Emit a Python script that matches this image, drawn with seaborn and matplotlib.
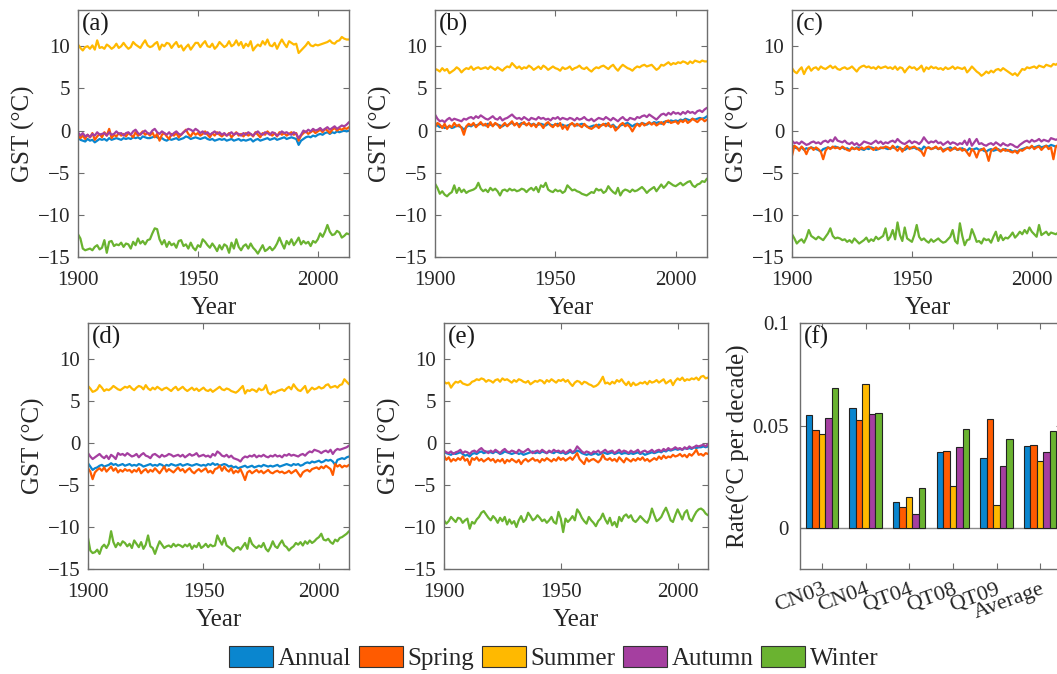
import numpy as np
import pandas as pd
import matplotlib
matplotlib.use("Agg")
import matplotlib.pyplot as plt
from matplotlib.patches import Patch
import seaborn as sns

# ---------------- data ----------------
years = list(range(1900, 2014))
seasons = ["Annual", "Spring", "Summer", "Autumn", "Winter"]
colors = ["#0A86CF", "#FF5B00", "#FFB900", "#A53FA0", "#6AB330"]

# Panel (a)
a_summer = [10.2, 9.8, 9.5, 9.9, 10.0, 9.7, 10.1, 9.6, 10.7, 9.8,
            9.9, 9.7, 10.2, 10.0, 9.7, 9.9, 10.3, 9.8, 10.0, 10.4,
            10.0, 9.7, 9.9, 10.5, 10.2, 10.0, 9.8, 10.3, 10.7, 10.1,
            9.9, 10.0, 10.3, 10.5, 9.6, 10.2, 10.0, 10.4, 10.3, 9.8,
            10.2, 10.5, 9.9, 10.1, 9.5, 9.9, 10.2, 9.6, 10.0, 10.4,
            10.4, 9.9, 10.3, 10.6, 10.0, 9.9, 10.3, 9.7, 10.0, 10.5,
            10.2, 9.9, 10.1, 10.6, 10.0, 10.2, 10.7, 10.1, 10.5, 9.8,
            10.3, 10.0, 10.6, 9.5, 9.9, 10.2, 10.0, 10.6, 10.2, 10.8,
            10.1, 10.0, 10.4, 9.7, 10.3, 10.8, 10.3, 9.9, 10.6, 10.4,
            10.2, 10.3, 9.2, 9.5, 9.8, 10.1, 10.5, 10.1, 10.0, 10.2,
            10.1, 10.2, 10.3, 10.4, 10.5, 10.7, 10.4, 10.3, 10.6, 10.7,
            11.1, 10.9, 10.8, 10.8]
a_autumn = [-0.2, -0.6, -0.3, -0.7, -0.5, -0.8, -0.4, -0.6, -0.2, -0.5,
            -0.4, -0.3, -0.6, -0.2, -0.5, -0.4, -0.1, -0.4, -0.3, -0.6,
            -0.3, -0.2, -0.5, -0.1, 0.1, -0.3, -0.5, -0.2, 0.0, -0.3,
            -0.4, 0.0, 0.2, -0.2, -0.4, -0.1, -0.3, -0.5, -0.2, -0.6,
            -0.3, -0.1, -0.4, -0.5, -0.2, 0.0, 0.2, 0.1, -0.1, 0.2,
            0.0, -0.3, -0.1, -0.4, -0.2, -0.5, -0.3, -0.1, -0.4, -0.2,
            -0.5, -0.3, -0.6, -0.4, -0.2, -0.5, -0.3, -0.4, -0.6, -0.3,
            -0.5, -0.2, -0.4, -0.6, -0.3, -0.1, -0.4, -0.5, -0.2, -0.3,
            -0.5, -0.2, -0.3, -0.6, -0.4, -0.1, -0.3, -0.2, -0.4, -0.5,
            -0.2, -0.4, -0.9, -0.5, 0.0, -0.2, 0.1, -0.1, 0.2, 0.0,
            0.1, 0.3, 0.0, 0.2, 0.4, 0.1, 0.3, 0.5, 0.2, 0.4,
            0.6, 0.5, 0.7, 1.0]
a_spring = [-0.4, -0.9, -0.6, -1.0, -0.5, -0.8, -0.3, -1.1, -0.7, -0.4,
            -0.8, -0.2, -0.6, 0.2, -0.9, -0.5, -0.7, -0.3, -0.6, -0.4,
            -0.7, -0.3, -0.5, -0.8, -0.2, -0.6, -0.4, -0.1, -0.5, -0.3,
            -0.6, -0.2, -0.8, -0.4, -1.2, -0.5, -0.3, -0.7, -1.0, -0.4,
            -0.6, -0.3, -0.8, -0.5, -0.2, 0.1, -0.4, -0.7, -0.2, -0.5,
            -0.3, -0.6, -0.4, -0.1, -0.5, -0.8, -0.3, -0.6, -0.2, -0.5,
            -0.7, -0.4, -0.6, -0.3, -0.8, -0.5, -0.2, -0.6, -0.4, -0.7,
            -0.3, -0.6, -0.4, -0.7, -0.2, -0.5, -0.8, -0.3, -0.5, -0.1,
            -0.4, -0.6, -0.3, -0.7, -0.2, -0.5, -0.3, -0.6, -0.4, -0.2,
            -0.5, -0.3, -1.2, -0.6, -0.3, -0.1, -0.4, -0.2, 0.0, -0.3,
            -0.1, 0.1, -0.2, 0.2, 0.0, -0.3, 0.1, 0.3, 0.0, 0.2,
            0.1, 0.3, 0.2, 0.4]
a_annual = [-0.8, -1.1, -1.2, -1.3, -1.0, -1.2, -1.1, -1.4, -1.2, -1.0,
            -1.1, -1.0, -1.2, -0.9, -1.1, -1.0, -0.9, -1.0, -1.1, -0.9,
            -1.0, -0.9, -1.0, -0.8, -0.9, -0.8, -1.0, -0.7, -0.8, -0.9,
            -0.9, -0.8, -0.7, -0.8, -1.0, -0.9, -1.1, -1.2, -1.0, -1.1,
            -1.0, -0.9, -1.1, -1.0, -0.9, -0.7, -0.8, -1.0, -0.9, -0.8,
            -0.9, -1.0, -0.9, -0.8, -1.0, -1.1, -1.0, -1.2, -1.1, -1.0,
            -1.1, -1.0, -1.2, -1.1, -1.0, -1.2, -1.1, -1.0, -1.2, -1.1,
            -1.2, -1.1, -1.0, -1.3, -1.1, -1.0, -1.2, -1.1, -1.0, -0.9,
            -1.1, -1.0, -0.9, -1.1, -1.0, -0.9, -0.8, -1.0, -0.9, -0.8,
            -0.9, -1.0, -1.7, -1.2, -1.0, -0.8, -0.7, -0.8, -0.6, -0.7,
            -0.5, -0.4, -0.5, -0.3, -0.2, -0.4, -0.2, -0.3, -0.1, -0.2,
            -0.1, 0.0, -0.1, 0.0]
a_winter = [-12.3, -12.8, -14.0, -14.2, -14.1, -14.0, -14.2, -13.8, -13.6, -14.1,
            -13.9, -13.0, -14.5, -13.2, -13.1, -13.7, -13.5, -13.6, -13.3, -13.8,
            -13.4, -13.5, -14.0, -13.2, -13.6, -12.8, -13.4, -13.1, -13.5, -13.0,
            -12.9, -12.2, -11.6, -11.7, -12.9, -13.5, -13.0, -13.8, -13.2, -13.6,
            -13.4, -13.9, -13.1, -13.0, -13.7, -13.5, -14.0, -13.3, -13.9, -14.2,
            -13.6, -13.8, -12.9, -13.2, -13.6, -13.9, -13.4, -13.8, -14.3, -13.6,
            -14.1, -13.5, -13.7, -14.5, -13.3, -14.0, -12.9, -13.8, -14.2, -13.7,
            -13.5, -14.0, -13.4, -13.9, -14.2, -14.6, -14.1, -13.6, -14.3, -14.1,
            -13.8, -14.2, -13.9, -13.4, -12.7, -13.4, -14.0, -13.1, -13.5, -12.9,
            -13.6, -13.2, -12.7, -13.5, -13.1, -13.4, -13.2, -13.7, -13.1, -13.3,
            -12.9, -12.2, -12.6, -12.0, -11.2, -12.0, -12.4, -12.3, -11.9, -12.1,
            -12.7, -12.5, -12.2, -12.3]

# Panel (b)
b_summer = [7.3, 7.2, 7.0, 7.4, 7.1, 7.3, 6.8, 7.0, 7.2, 7.5,
            7.3, 6.9, 7.2, 7.4, 7.3, 7.6, 7.2, 7.4, 7.5, 7.3,
            7.4, 7.5, 7.3, 7.6, 7.4, 7.2, 7.5, 7.3, 7.1, 7.4,
            7.6, 7.5, 8.0, 7.7, 7.4, 7.6, 7.3, 7.5, 7.4, 7.7,
            7.5, 7.2, 7.4, 7.6, 7.3, 7.7, 7.5, 7.2, 7.4, 7.6,
            7.4, 7.3, 7.1, 7.5, 7.3, 7.4, 7.6, 7.2, 7.4, 7.5,
            7.7, 7.4, 7.3, 7.5, 7.2, 7.0, 7.3, 7.5, 7.4, 7.6,
            7.7, 7.5, 7.3, 7.6, 7.8, 7.4, 7.1, 7.5, 7.8, 7.6,
            7.4, 7.3, 7.1, 7.4, 7.6, 7.5, 7.7, 7.8, 7.6, 7.7,
            7.8, 7.5, 7.2, 7.4, 7.8, 7.7, 7.9, 8.1, 7.8, 8.0,
            7.9, 8.1, 8.0, 8.2, 8.1, 7.9, 8.2, 8.0, 8.3, 8.2,
            8.1, 8.3, 8.2, 8.2]
b_autumn = [1.9, 1.4, 1.1, 1.2, 1.0, 1.3, 1.5, 1.2, 1.4, 1.3,
            1.2, 1.1, 1.4, 1.3, 1.5, 1.6, 1.4, 1.7, 1.5, 1.8,
            1.6, 1.4, 1.3, 1.5, 1.7, 1.4, 1.3, 1.6, 1.2, 1.4,
            1.5, 1.7, 1.9, 1.6, 1.4, 1.5, 1.3, 1.6, 1.4, 1.2,
            1.5, 1.4, 1.3, 1.6, 1.4, 1.5, 1.3, 1.4, 1.2, 1.5,
            1.4, 1.6, 1.3, 1.5, 1.4, 1.3, 1.5, 1.4, 1.2, 1.5,
            1.3, 1.4, 1.6, 1.3, 1.2, 1.4, 1.1, 1.3, 1.5, 1.4,
            1.3, 1.6, 1.4, 1.2, 1.5, 1.3, 1.1, 1.4, 1.6, 1.3,
            1.2, 1.5, 1.4, 1.3, 1.6, 1.5, 1.7, 1.8, 1.6, 1.9,
            1.7, 1.5, 1.3, 1.6, 1.9, 2.0, 1.8, 2.1, 1.9, 2.2,
            2.0, 2.1, 1.9, 2.2, 2.0, 2.3, 2.1, 2.2, 2.0, 2.3,
            2.4, 2.2, 2.5, 2.7]
b_annual = [0.8, 0.6, 0.4, 0.5, 0.3, 0.4, 0.5, 0.3, 0.4, 0.6,
            0.5, 0.4, 0.1, 0.4, 0.6, 0.5, 0.7, 0.6, 0.7, 0.8,
            0.7, 0.6, 0.8, 0.7, 0.6, 0.8, 0.7, 0.6, 0.5, 0.7,
            0.6, 0.8, 0.9, 0.7, 0.8, 0.7, 0.9, 0.8, 0.7, 0.8,
            0.7, 0.8, 0.6, 0.7, 0.8, 0.7, 0.6, 0.8, 0.7, 0.6,
            0.7, 0.8, 0.6, 0.7, 0.5, 0.6, 0.7, 0.8, 0.7, 0.6,
            0.7, 0.8, 0.7, 0.5, 0.4, 0.5, 0.6, 0.5, 0.7, 0.6,
            0.7, 0.8, 0.6, 0.5, 0.7, 0.4, 0.3, 0.6, 0.7, 0.8,
            0.9, 0.7, 0.5, 0.7, 0.8, 0.7, 0.9, 0.8, 0.7, 0.9,
            0.8, 1.0, 0.9, 1.0, 0.8, 1.0, 1.1, 1.0, 1.2, 1.1,
            1.2, 1.1, 1.3, 1.2, 1.4, 1.3, 1.2, 1.4, 1.3, 1.4,
            1.5, 1.4, 1.5, 1.7]
b_spring = [0.4, 0.9, 0.7, 0.3, 0.8, 0.2, 0.6, 0.4, 0.9, 0.5,
            0.7, 0.3, -0.5, 0.5, 0.8, 0.6, 0.9, 0.4, 0.7, 1.0,
            0.6, 0.8, 0.4, 1.0, 0.5, 0.9, 0.7, 0.3, 0.6, 0.9,
            0.5, 0.8, 1.1, 0.6, 0.9, 0.4, 0.8, 1.0, 0.6, 0.9,
            0.5, 0.8, 0.4, 0.9, 0.7, 0.3, 0.8, 1.0, 0.6, 0.4,
            0.8, 0.5, 0.9, 0.2, 0.6, 0.1, 0.7, 0.9, 0.5, 0.8,
            0.6, 0.4, 0.8, 0.5, 0.3, 0.2, 0.4, 0.7, 0.3, 0.6,
            0.8, 0.5, 0.9, 0.4, 0.6, 0.0, 0.3, 0.7, 0.9, 0.5,
            0.7, 0.4, -0.1, 0.4, 0.8, 0.5, 0.9, 0.6, 0.8, 1.0,
            0.7, 0.9, 0.6, 0.8, 1.0, 0.7, 1.1, 1.2, 0.9, 1.0,
            1.1, 0.8, 1.2, 1.0, 1.3, 0.9, 1.1, 1.4, 1.2, 1.0,
            1.3, 1.4, 1.1, 1.3]
b_winter = [-6.3, -6.8, -7.5, -7.2, -7.6, -7.8, -7.5, -7.3, -6.5, -7.4,
            -6.8, -7.3, -7.0, -7.4, -7.2, -7.1, -7.0, -6.8, -6.2, -6.9,
            -7.2, -7.0, -7.3, -6.8, -7.1, -6.9, -7.2, -7.7, -7.1, -7.0,
            -7.2, -6.9, -7.1, -7.0, -7.2, -7.1, -6.9, -7.0, -7.3, -7.0,
            -6.8, -7.1, -6.7, -7.3, -6.5, -6.7, -6.2, -7.0, -7.2, -7.3,
            -7.0, -7.2, -7.1, -7.4, -7.2, -6.5, -6.8, -7.1, -7.0, -7.2,
            -7.3, -7.5, -7.6, -7.7, -7.5, -7.3, -7.4, -6.9, -7.1, -7.0,
            -7.4, -7.2, -6.6, -7.0, -7.3, -7.5, -6.8, -7.7, -7.2, -7.0,
            -7.1, -7.3, -7.0, -7.2, -7.1, -6.9, -6.7, -7.0, -7.4, -7.1,
            -6.9, -6.7, -7.2, -6.8, -6.4, -6.8, -6.5, -6.1, -6.3, -6.5,
            -6.6, -6.4, -6.2, -6.5, -6.3, -6.1, -6.0, -6.5, -6.7, -6.4,
            -6.3, -6.0, -6.1, -5.7]

# Panel (c)
c_summer = [7.4, 7.0, 6.8, 7.2, 7.5, 6.7, 7.3, 7.6, 7.1, 7.4,
            7.5, 7.2, 7.6, 7.4, 7.3, 7.5, 7.7, 7.4, 7.6, 7.3,
            7.2, 7.4, 7.5, 7.3, 7.4, 7.6, 7.3, 7.0, 7.4, 7.6,
            7.7, 7.5, 7.6, 7.4, 7.5, 7.3, 7.6, 7.4, 7.5, 7.6,
            7.4, 7.5, 7.3, 7.6, 7.2, 7.5, 7.4, 6.9, 7.3, 7.6,
            7.4, 7.5, 7.2, 7.4, 7.7, 7.0, 7.5, 7.3, 7.6, 7.4,
            7.5, 7.3, 7.4, 7.2, 7.5, 7.3, 7.4, 7.6, 7.3, 7.5,
            7.4, 7.3, 7.5, 6.9, 7.2, 7.6, 7.3, 7.0, 6.8, 6.5,
            6.7, 7.0, 6.8, 7.1, 6.9, 7.2, 7.3, 7.1, 7.4, 7.2,
            7.0, 6.8, 6.6, 6.8, 6.5, 6.9, 7.3, 7.2, 7.5, 7.4,
            7.5, 7.6, 7.4, 7.7, 7.6, 7.5, 7.8, 7.7, 7.6, 7.9,
            7.8, 8.0, 7.9, 8.0]
c_autumn = [-1.2, -1.5, -1.4, -1.6, -1.3, -1.5, -1.7, -1.6, -1.4, -1.3,
            -1.5, -1.4, -1.6, -1.3, -1.2, -1.4, -1.1, -1.3, -0.8, -1.2,
            -1.3, -1.4, -1.2, -1.5, -1.6, -1.4, -1.7, -1.5, -1.8, -1.6,
            -1.3, -1.4, -1.5, -1.6, -1.4, -1.2, -1.5, -1.3, -1.6, -1.4,
            -1.5, -1.3, -1.2, -1.4, -1.0, -1.3, -1.5, -1.6, -1.4, -1.2,
            -1.5, -1.3, -1.4, -1.6, -1.3, -0.8, -1.2, -1.5, -1.3, -1.4,
            -1.2, -1.5, -1.4, -1.7, -1.5, -1.3, -1.6, -1.4, -1.5, -1.7,
            -1.5, -1.6, -1.2, -1.7, -1.0, -1.8, -1.4, -1.0, -1.6, -1.5,
            -1.7, -1.8, -1.6, -1.5, -1.7, -1.4, -1.6, -1.8, -1.5, -1.7,
            -1.8, -1.6, -1.7, -1.9, -2.0, -1.7, -1.5, -1.3, -1.2, -1.4,
            -1.1, -1.3, -1.2, -1.0, -1.3, -1.1, -1.2, -1.3, -0.9, -1.0,
            -1.1, -1.0, -0.9, -1.2]
c_annual = [-1.7, -2.0, -2.1, -2.2, -2.0, -2.3, -2.1, -2.2, -2.0, -2.1,
            -2.2, -2.3, -2.5, -2.2, -2.1, -2.0, -2.1, -2.0, -1.9, -2.0,
            -2.1, -2.0, -2.2, -2.1, -2.3, -2.1, -2.2, -2.0, -2.1, -2.2,
            -2.3, -2.1, -2.2, -2.0, -2.1, -2.3, -2.2, -2.1, -2.0, -2.1,
            -2.2, -2.1, -2.0, -2.1, -1.9, -2.1, -2.2, -2.3, -2.1, -2.0,
            -2.1, -2.0, -2.2, -2.1, -2.3, -1.9, -2.1, -2.0, -2.2, -2.1,
            -2.0, -2.2, -2.1, -2.3, -2.2, -2.1, -2.0, -2.2, -2.1, -2.3,
            -2.2, -2.1, -2.3, -2.4, -2.1, -2.3, -2.2, -2.1, -2.3, -2.2,
            -2.4, -2.5, -2.3, -2.2, -2.4, -2.3, -2.2, -2.4, -2.3, -2.2,
            -2.4, -2.3, -2.5, -2.4, -2.5, -2.3, -2.2, -2.1, -2.0, -2.1,
            -1.9, -2.0, -1.9, -1.8, -2.0, -1.9, -1.8, -1.9, -1.7, -1.8,
            -1.9, -1.8, -1.7, -1.8]
c_spring = [-3.0, -1.8, -2.0, -2.4, -1.9, -2.2, -2.8, -2.1, -2.0, -2.3,
            -2.0, -2.2, -2.5, -3.4, -2.4, -2.0, -2.2, -1.9, -2.1, -2.0,
            -2.2, -1.9, -2.1, -2.3, -2.4, -2.0, -2.2, -2.1, -2.3, -2.0,
            -2.2, -2.0, -1.9, -2.1, -2.3, -2.0, -2.2, -2.0, -2.1, -1.9,
            -2.0, -2.2, -1.8, -2.1, -2.4, -2.0, -2.5, -2.1, -1.8, -2.2,
            -2.0, -1.9, -2.1, -2.3, -2.5, -3.0, -2.1, -2.0, -2.2, -2.1,
            -1.9, -2.2, -2.0, -2.5, -2.3, -2.1, -2.4, -2.2, -2.0, -2.3,
            -2.1, -2.4, -2.2, -2.6, -3.0, -2.2, -2.5, -3.2, -2.4, -2.3,
            -2.1, -2.6, -3.6, -2.4, -2.2, -2.0, -2.3, -2.5, -2.2, -2.4,
            -2.3, -2.5, -2.6, -2.4, -2.7, -2.3, -2.4, -2.2, -2.0, -2.1,
            -1.8, -2.2, -2.0, -1.9, -2.3, -2.0, -1.8, -2.2, -2.0, -3.4,
            -1.9, -1.7, -2.1, -1.8]
c_winter = [-12.3, -12.8, -13.4, -13.1, -12.9, -13.3, -12.7, -11.8, -12.5, -12.7,
            -12.9, -12.6, -12.8, -13.0, -12.6, -12.2, -11.6, -12.5, -12.8, -12.7,
            -12.8, -13.0, -12.9, -13.2, -13.0, -13.3, -12.8, -13.1, -13.4, -13.2,
            -13.0, -12.7, -13.2, -12.9, -13.1, -12.6, -12.9, -12.7, -12.5, -11.6,
            -13.0, -12.6, -11.8, -12.9, -10.9, -12.4, -13.1, -11.5, -12.8, -13.0,
            -13.2, -12.4, -11.2, -12.6, -13.0, -12.8, -13.1, -13.3, -12.9, -13.2,
            -13.0, -12.8, -13.1, -13.3, -13.2, -12.9, -12.6, -11.8, -13.1, -13.4,
            -11.0, -12.5, -13.6, -13.0, -12.9, -11.7, -12.4, -13.2, -13.1, -13.4,
            -12.8, -13.0, -12.9, -13.3, -12.6, -12.0, -13.1, -12.4, -13.0, -12.7,
            -12.8, -12.5, -12.1, -12.7, -12.4, -12.0, -12.3, -11.8, -12.2, -11.5,
            -12.0, -12.3, -12.6, -11.2, -12.4, -12.2, -12.0, -12.4, -12.1, -12.2,
            -12.3, -12.1, -12.0, -12.2]

# Panel (d)
d_summer = [6.8, 6.5, 6.1, 6.2, 6.4, 6.9, 6.6, 6.2, 6.4, 6.3,
            6.5, 6.8, 6.6, 6.4, 6.3, 6.5, 6.7, 6.6, 6.8, 6.5,
            6.3, 6.6, 6.8, 6.7, 6.4, 6.9, 6.5, 6.3, 6.6, 6.4,
            6.7, 6.5, 6.3, 6.5, 6.6, 6.4, 6.2, 6.5, 6.7, 6.3,
            6.5, 6.7, 6.4, 6.2, 6.4, 6.6, 6.3, 6.5, 6.2, 6.4,
            6.6, 6.3, 6.2, 6.4, 6.1, 6.3, 6.5, 6.7, 6.4, 6.3,
            6.5, 6.4, 6.2, 6.1, 6.0, 6.2, 6.5, 6.8, 5.9, 6.3,
            6.2, 6.4, 6.3, 6.1, 6.5, 6.3, 6.4, 6.9, 6.0, 5.8,
            6.1, 6.0, 6.2, 6.3, 6.4, 6.2, 6.5, 6.7, 6.4, 7.0,
            6.6, 6.3, 6.2, 6.5, 6.8, 6.0, 6.3, 6.6, 6.4, 6.5,
            6.7, 6.5, 6.6, 6.9, 7.0, 6.6, 6.7, 6.8, 6.6, 6.9,
            7.0, 7.6, 7.3, 7.0]
d_autumn = [-1.2, -1.6, -1.9, -1.7, -1.5, -1.3, -1.6, -1.8, -1.5, -1.9,
            -1.4, -1.6, -1.9, -1.2, -1.4, -1.3, -1.5, -1.2, -1.4, -1.6,
            -1.5, -1.3, -1.7, -1.4, -1.2, -1.5, -1.6, -1.8, -1.4, -1.3,
            -1.5, -1.7, -1.4, -1.6, -1.5, -1.3, -1.4, -1.6, -1.5, -1.4,
            -1.6, -1.4, -1.7, -1.5, -1.3, -1.5, -1.4, -1.2, -1.6, -1.5,
            -1.4, -1.6, -1.5, -1.7, -1.3, -1.5, -1.0, -1.2, -1.5, -1.6,
            -1.4, -1.7, -1.5, -1.8, -1.9, -2.0, -2.2, -1.8, -1.6, -1.7,
            -1.5, -1.6, -1.4, -1.7, -1.5, -1.6, -1.4, -1.6, -1.7, -1.5,
            -1.6, -1.4, -1.6, -1.5, -1.7, -1.4, -1.5, -1.3, -1.5, -1.4,
            -1.5, -1.6, -1.4, -1.3, -1.5, -1.2, -1.0, -1.1, -0.8, -0.9,
            -1.0, -1.2, -1.0, -0.9, -1.1, -0.8, -1.3, -0.9, -0.7, -0.8,
            -0.7, -0.6, -0.5, -0.3]
d_annual = [-2.4, -2.8, -3.2, -3.0, -2.9, -2.7, -2.6, -2.8, -2.7, -2.6,
            -2.4, -2.6, -2.5, -2.7, -2.6, -2.5, -2.7, -2.6, -2.5, -2.7,
            -2.6, -2.7, -2.5, -2.6, -2.8, -2.7, -2.6, -2.5, -2.7, -2.6,
            -2.7, -2.5, -2.6, -2.8, -2.6, -2.7, -2.5, -2.6, -2.7, -2.6,
            -2.5, -2.7, -2.6, -2.5, -2.6, -2.7, -2.6, -2.5, -2.6, -2.7,
            -2.6, -2.7, -2.5, -2.6, -2.4, -2.6, -2.5, -2.7, -2.6, -2.5,
            -2.6, -2.8, -2.7, -2.9, -2.8, -3.0, -2.9, -2.8, -2.7, -2.9,
            -2.8, -2.7, -2.9, -2.8, -2.7, -2.8, -2.6, -2.7, -2.8, -2.7,
            -2.8, -2.7, -2.6, -2.8, -2.7, -2.6, -2.5, -2.6, -2.7, -2.5,
            -2.6, -2.5, -2.7, -2.6, -2.4, -2.3, -2.4, -2.2, -2.3, -2.2,
            -2.1, -2.3, -2.2, -2.0, -2.1, -2.0, -2.2, -2.6, -2.0, -1.9,
            -1.8, -1.9, -1.7, -1.6]
d_spring = [-3.0, -3.4, -4.3, -3.5, -3.2, -3.0, -3.3, -2.9, -3.4, -3.1,
            -2.8, -3.3, -3.0, -3.5, -3.2, -3.4, -3.1, -3.3, -3.2, -3.5,
            -3.2, -3.4, -3.0, -3.6, -3.3, -3.1, -3.5, -3.2, -3.4, -3.0,
            -3.3, -3.6, -3.2, -2.8, -3.4, -3.1, -3.3, -3.5, -3.2, -2.9,
            -3.3, -3.1, -3.5, -3.2, -3.0, -3.4, -3.6, -3.3, -3.1, -3.4,
            -3.2, -3.0, -3.5, -3.3, -3.6, -3.1, -3.0, -2.7, -3.3, -2.8,
            -3.2, -3.4, -3.0, -3.6, -3.3, -3.5, -3.1, -3.7, -4.4, -3.5,
            -3.3, -3.6, -3.4, -3.2, -3.5, -3.3, -3.6, -3.4, -3.2, -3.5,
            -3.6, -3.4, -3.3, -3.5, -3.4, -3.6, -3.5, -3.3, -3.6, -3.4,
            -3.2, -3.6, -4.0, -3.5, -3.3, -3.2, -3.4, -3.1, -3.0, -2.9,
            -3.1, -2.8, -3.0, -2.7, -2.9, -3.1, -3.8, -2.5, -2.8, -2.6,
            -2.9, -2.7, -2.8, -2.6]
d_winter = [-11.3, -12.8, -13.1, -13.0, -12.7, -13.2, -12.4, -12.1, -12.5, -12.0,
            -10.5, -11.8, -12.4, -11.9, -12.2, -11.7, -11.9, -12.3, -12.0, -12.5,
            -11.6, -12.0, -12.4, -11.8, -12.6, -12.1, -11.0, -12.3, -12.5, -13.2,
            -12.4, -11.7, -12.1, -12.5, -12.3, -12.2, -12.4, -12.0, -12.3, -12.1,
            -12.2, -12.4, -12.1, -12.3, -12.0, -12.6, -12.2, -12.4, -11.9, -12.5,
            -12.3, -12.0, -12.4, -12.1, -12.3, -12.2, -11.0, -11.6, -12.1, -11.3,
            -12.2, -12.4, -12.6, -12.9, -12.5, -12.4, -12.7, -12.3, -11.9, -12.6,
            -11.3, -12.0, -12.3, -12.5, -12.2, -12.4, -11.9, -12.6, -12.9, -12.4,
            -11.7, -12.3, -12.5, -12.0, -11.6, -12.2, -12.4, -12.8, -12.5, -12.3,
            -11.9, -12.1, -11.8, -12.2, -11.7, -12.0, -11.6, -11.9, -11.7, -11.4,
            -11.2, -10.8, -11.5, -11.6, -11.4, -11.8, -12.0, -11.5, -11.7, -11.3,
            -11.2, -11.0, -10.8, -10.5]

# Panel (e)
e_summer = [7.3, 7.1, 7.2, 6.6, 7.0, 7.3, 7.2, 7.4, 7.1, 7.0,
            6.9, 7.0, 7.3, 7.4, 7.6, 7.5, 7.7, 7.6, 7.3, 7.5,
            7.4, 7.2, 7.5, 7.6, 7.3, 7.7, 7.5, 7.6, 7.4, 7.2,
            7.5, 7.3, 7.6, 7.5, 7.3, 7.2, 7.4, 7.0, 7.2, 7.4,
            7.3, 7.5, 7.4, 7.1, 7.5, 7.3, 7.6, 7.4, 7.2, 7.5,
            7.4, 7.6, 7.3, 7.5, 7.1, 6.8, 7.2, 7.4, 7.3, 7.0,
            7.3, 7.2, 7.0, 6.9, 6.7, 6.8, 7.0, 7.4, 7.9, 7.1,
            7.2, 7.0, 7.3, 7.1, 7.5, 7.3, 7.6, 7.2, 6.9, 7.3,
            6.8, 7.2, 6.9, 7.0, 7.2, 7.1, 7.3, 7.0, 7.4, 7.2,
            7.3, 7.5, 7.2, 7.4, 7.6, 7.1, 7.3, 7.5, 6.9, 7.4,
            7.7, 7.5, 7.8, 7.4, 7.6, 7.5, 7.7, 7.6, 7.8, 7.5,
            7.9, 8.0, 7.7, 7.8]
e_autumn = [-0.9, -1.1, -1.2, -1.0, -1.3, -1.1, -1.0, -0.8, -1.2, -1.0,
            -1.1, -1.3, -1.0, -0.9, -1.1, -0.8, -0.6, -0.9, -1.0, -1.2,
            -0.9, -1.1, -0.8, -1.0, -1.2, -0.9, -0.7, -1.0, -1.1, -0.9,
            -1.0, -1.2, -0.8, -1.0, -1.1, -0.9, -0.7, -1.0, -1.2, -1.0,
            -0.9, -1.1, -0.8, -1.0, -1.2, -0.9, -1.1, -0.8, -1.0, -0.9,
            -1.1, -0.9, -1.2, -1.0, -0.8, -1.1, -0.9, -0.4, -0.7, -1.0,
            -1.2, -1.0, -1.1, -1.3, -1.0, -1.1, -0.9, -1.2, -1.0, -0.8,
            -1.1, -1.0, -0.9, -1.2, -1.0, -0.8, -1.1, -0.9, -1.0, -1.2,
            -0.9, -1.1, -1.0, -0.8, -1.2, -1.0, -0.9, -1.1, -1.0, -0.8,
            -1.1, -0.9, -0.8, -1.0, -0.7, -0.9, -0.6, -0.8, -0.7, -0.5,
            -0.7, -0.6, -0.8, -0.5, -0.7, -0.4, -0.6, -0.5, -0.3, -0.4,
            -0.3, -0.2, -0.4, -0.1]
e_annual = [-1.0, -1.2, -1.3, -1.4, -1.2, -1.3, -1.2, -1.1, -1.3, -1.5,
            -1.4, -1.6, -1.3, -1.2, -1.3, -1.1, -1.0, -1.2, -1.1, -1.0,
            -1.1, -1.2, -1.0, -1.1, -1.3, -1.2, -1.0, -1.1, -1.2, -1.3,
            -1.2, -1.1, -1.3, -1.2, -1.4, -1.3, -1.2, -1.1, -1.0, -1.2,
            -1.1, -1.2, -1.0, -1.1, -1.2, -1.0, -1.1, -1.2, -1.0, -1.1,
            -1.2, -1.1, -1.3, -1.2, -1.0, -1.2, -1.1, -0.9, -1.0, -1.2,
            -1.3, -1.4, -1.3, -1.4, -1.3, -1.2, -1.4, -1.3, -1.1, -1.2,
            -1.3, -1.2, -1.1, -1.3, -1.2, -1.1, -1.3, -1.2, -1.2, -1.3,
            -1.2, -1.3, -1.2, -1.1, -1.3, -1.2, -1.4, -1.3, -1.2, -1.1,
            -1.2, -1.1, -1.0, -1.1, -0.9, -1.0, -0.8, -0.9, -0.8, -0.7,
            -0.8, -0.7, -0.8, -0.6, -0.7, -0.6, -0.7, -0.5, -0.6, -0.5,
            -0.5, -0.4, -0.5, -0.4]
e_spring = [-1.5, -2.0, -1.7, -2.2, -1.9, -2.1, -1.8, -2.0, -1.6, -2.1,
            -1.9, -2.6, -1.8, -2.0, -1.7, -2.1, -1.9, -2.2, -2.0, -1.8,
            -2.1, -1.9, -2.3, -2.0, -2.2, -1.9, -2.4, -2.0, -2.2, -1.9,
            -2.1, -2.3, -2.0, -2.5, -2.1, -1.9, -2.2, -2.0, -1.8, -2.1,
            -2.0, -2.3, -1.9, -2.1, -1.8, -2.0, -2.2, -1.9, -2.1, -1.7,
            -2.0, -1.8, -2.1, -1.9, -1.7, -2.0, -1.6, -1.2, -1.9, -2.2,
            -2.5, -1.8, -2.2, -2.0, -1.9, -2.1, -2.3, -2.0, -1.4, -1.9,
            -2.0, -1.8, -2.1, -1.9, -2.2, -1.7, -2.0, -2.3, -1.8, -2.0,
            -2.2, -1.9, -2.1, -1.8, -2.0, -1.7, -2.1, -1.9, -2.2, -2.0,
            -1.8, -2.0, -1.6, -1.9, -1.5, -1.8, -1.6, -1.7, -1.4, -1.6,
            -1.5, -1.3, -1.6, -1.4, -1.7, -1.3, -1.5, -1.2, -0.8, -1.4,
            -1.3, -1.5, -1.2, -1.3]
e_winter = [-9.2, -9.6, -9.3, -8.8, -9.1, -9.4, -8.9, -9.0, -9.5, -9.2,
            -9.0, -10.2, -9.4, -9.6, -9.1, -8.8, -8.3, -8.1, -8.5, -8.9,
            -9.2, -8.7, -9.0, -9.5, -8.9, -9.3, -8.8, -9.7, -9.1, -9.6,
            -9.3, -10.0, -9.2, -8.7, -9.4, -9.1, -8.3, -8.7, -9.2, -9.0,
            -8.6, -8.9, -9.3, -9.1, -9.5, -9.2, -8.8, -9.4, -9.6, -8.2,
            -9.0, -10.6, -9.0, -9.4, -9.1, -8.7, -9.2, -7.9, -8.3, -8.9,
            -9.3, -9.6, -8.8, -9.2, -9.5, -9.9, -9.3, -9.0, -8.4, -9.1,
            -9.6, -8.9, -9.8, -9.4, -10.0, -8.8, -9.3, -8.7, -8.5, -8.9,
            -8.6, -9.2, -9.4, -9.1, -8.7, -9.0, -9.3, -9.5, -8.9, -7.8,
            -8.6, -9.3, -9.1, -8.8, -8.2, -7.7, -8.4, -9.2, -9.4, -8.6,
            -7.9, -8.5, -9.1, -8.3, -8.0, -9.0, -9.3, -8.7, -8.2, -7.9,
            -7.8, -8.0, -8.4, -8.6]

# Panel (f): warming rate (°C per decade)
sites = ["CN03", "CN04", "QT04", "QT08", "QT09", "Average"]
rate_annual = [0.0551, 0.0587, 0.0128, 0.0372, 0.0343, 0.0399]
rate_spring = [0.0479, 0.0527, 0.0103, 0.0378, 0.0532, 0.0404]
rate_summer = [0.0460, 0.0704, 0.0149, 0.0204, 0.0112, 0.0327]
rate_autumn = [0.0537, 0.0556, 0.0067, 0.0394, 0.0303, 0.0373]
rate_winter = [0.0683, 0.0561, 0.0194, 0.0481, 0.0434, 0.0474]

panel_series = {
    "a": [a_annual, a_spring, a_summer, a_autumn, a_winter],
    "b": [b_annual, b_spring, b_summer, b_autumn, b_winter],
    "c": [c_annual, c_spring, c_summer, c_autumn, c_winter],
    "d": [d_annual, d_spring, d_summer, d_autumn, d_winter],
    "e": [e_annual, e_spring, e_summer, e_autumn, e_winter],
}

# ---------------- style ----------------
sns.set_theme(style="ticks")
plt.rcParams["font.family"] = ["Liberation Serif", "DejaVu Serif"]
plt.rcParams["axes.unicode_minus"] = True
palette = dict(zip(seasons, colors))

W, H = 1057, 674
fig = plt.figure(figsize=(W / 100, H / 100), dpi=100)

def rect(l, r, t, b):
    return [l / W, 1 - b / H, (r - l) / W, (b - t) / H]

rects = {
    "a": rect(78, 349, 10, 257),
    "b": rect(435, 707, 10, 257),
    "c": rect(792, 1063, 10, 257),
    "d": rect(88, 349, 323, 569),
    "e": rect(444, 708, 323, 569),
    "f": rect(800, 1062, 323, 569),
}

TICK_FS = 15
LAB_FS = 18
SPINE = "#6e6e6e"
TXT = "#262626"

def style_axes(ax, ypad=5.5):
    for s in ax.spines.values():
        s.set_visible(True)
        s.set_color(SPINE)
        s.set_linewidth(1.0)
    ax.tick_params(direction="in", length=4, width=0.8, color=SPINE,
                   top=True, right=True, labelsize=TICK_FS, labelcolor=TXT)
    ax.tick_params(axis="x", pad=10)
    ax.tick_params(axis="y", pad=ypad)

for key, series in panel_series.items():
    ax = fig.add_axes(rects[key])
    df = pd.concat([
        pd.DataFrame({"Year": years, "GST": vals, "Season": s})
        for s, vals in zip(seasons, series)
    ], ignore_index=True)
    sns.lineplot(data=df, x="Year", y="GST", hue="Season", palette=palette,
                 hue_order=seasons, linewidth=1.6, legend=False, ax=ax)
    ax.set_xlim(1900, 2013)
    ax.set_ylim(-15, 14.3)
    ax.set_xticks([1900, 1950, 2000])
    ax.set_yticks([-15, -10, -5, 0, 5, 10])
    ax.set_xlabel("Year", fontsize=LAB_FS, labelpad=5, color=TXT)
    ax.set_ylabel("GST (°C)", fontsize=LAB_FS, labelpad=2, color=TXT)
    style_axes(ax)
    ax.text(0.015, 0.99, f"({key})", transform=ax.transAxes, ha="left", va="top",
            fontsize=LAB_FS, color="#1a1a1a")

# Panel (f) bars
axf = fig.add_axes(rects["f"])
dff = pd.concat([
    pd.DataFrame({"Site": sites, "Rate": vals, "Season": s})
    for s, vals in zip(seasons, [rate_annual, rate_spring, rate_summer,
                                  rate_autumn, rate_winter])
], ignore_index=True)
sns.barplot(data=dff, x="Site", y="Rate", hue="Season", hue_order=seasons,
            palette=palette, width=0.74, gap=0, edgecolor="#222222",
            linewidth=0.8, saturation=1, legend=False, ax=axf)
axf.axhline(0, color="#8a8a8a", linewidth=1.0, zorder=0.5)
axf.set_xlim(-0.5, 5.5)
axf.set_ylim(-0.02, 0.1)
axf.set_yticks([0, 0.05, 0.1])
axf.set_yticklabels(["0", "0.05", "0.1"])
axf.set_xlabel("")
axf.set_ylabel("Rate(°C per decade)", fontsize=LAB_FS, labelpad=2, color=TXT)
style_axes(axf, ypad=8)
axf.tick_params(axis="x", labelsize=16, pad=8)
for lab in axf.get_xticklabels():
    lab.set_rotation(20)
    lab.set_ha("right")
    lab.set_rotation_mode("anchor")
axf.text(0.015, 0.99, "(f)", transform=axf.transAxes, ha="left", va="top",
         fontsize=LAB_FS, color="#1a1a1a")

# Legend
handles = [Patch(facecolor=c, edgecolor="#333333", linewidth=0.8, label=s)
           for s, c in zip(seasons, colors)]
fig.legend(handles=handles, loc="center", bbox_to_anchor=(554 / W, 1 - 658 / H),
           ncol=5, frameon=False, fontsize=LAB_FS, handlelength=1.75,
           handleheight=0.95, handletextpad=0.2, columnspacing=0.3,
           borderaxespad=0)

fig.savefig("out.png", dpi=100)
